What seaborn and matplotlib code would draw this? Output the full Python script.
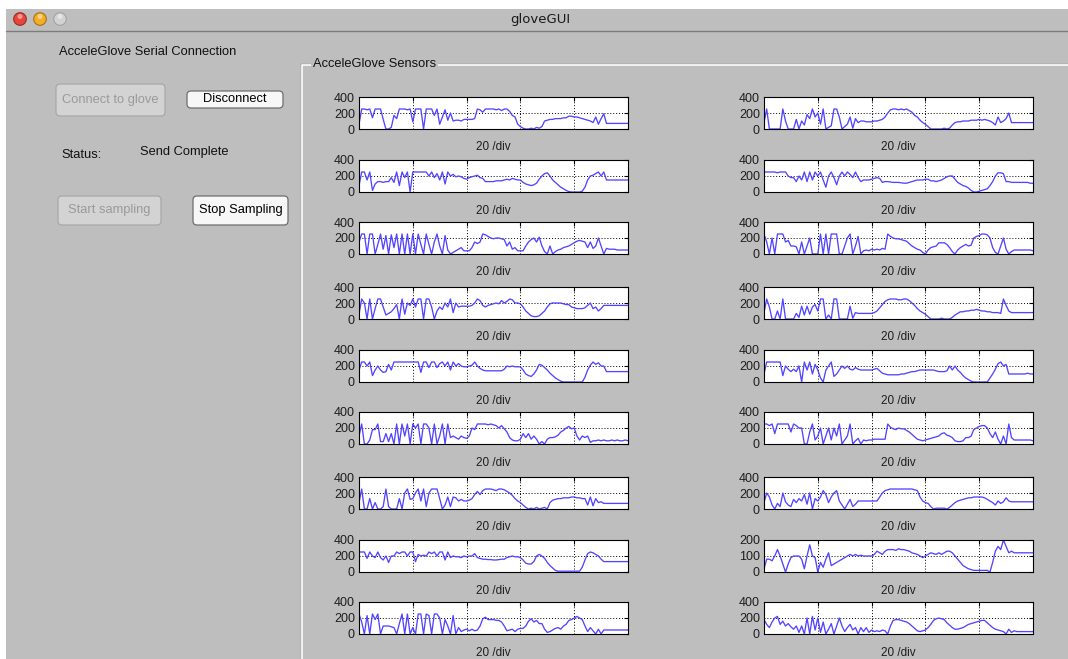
import numpy as np
import matplotlib.pyplot as plt
import seaborn as sns
from matplotlib.patches import Rectangle, FancyBboxPatch, Circle

# sensor traces (one value per x step, x = 0..100)
left_1 = [60, 250, 250, 240, 250, 140, 250, 250, 250, 120, 0, 0, 20, 170, 130, 250, 250, 250, 240, 250,
          90, 250, 250, 250, 0, 250, 250, 250, 170, 250, 60, 150, 240, 110, 200, 100, 110, 110, 100, 120,
          120, 120, 120, 130, 250, 240, 210, 250, 250, 250, 250, 240, 250, 230, 250, 250, 220, 170, 150, 60,
          30, 10, 0, 0, 10, 0, 20, 10, 30, 100, 110, 120, 120, 130, 130, 130, 140, 140, 160, 160,
          150, 150, 140, 130, 120, 110, 100, 80, 150, 60, 130, 190, 70, 70, 70, 70, 70, 70, 70, 70, 70]
left_2 = [80, 250, 250, 150, 250, 20, 100, 130, 130, 120, 130, 130, 180, 120, 250, 80, 250, 180, 250, 0,
          250, 250, 250, 250, 250, 250, 200, 250, 180, 230, 150, 250, 100, 250, 200, 220, 190, 200, 190, 170,
          160, 180, 190, 200, 210, 180, 170, 130, 130, 130, 130, 140, 140, 140, 150, 160, 150, 170, 160, 150,
          150, 120, 100, 90, 80, 90, 110, 160, 200, 230, 240, 200, 150, 120, 90, 60, 40, 20, 5, 0,
          0, 0, 0, 10, 60, 150, 200, 210, 230, 250, 200, 250, 150, 150, 150, 150, 150, 150, 150, 150, 150]
left_3 = [150, 250, 250, 0, 250, 250, 0, 120, 250, 60, 230, 0, 240, 80, 250, 0, 250, 0, 250, 0,
          250, 0, 250, 120, 0, 250, 120, 0, 150, 250, 100, 0, 230, 50, 0, 20, 40, 60, 80, 40,
          40, 40, 80, 150, 130, 150, 250, 240, 220, 200, 190, 200, 200, 190, 180, 100, 150, 60, 80, 40,
          40, 40, 100, 150, 180, 200, 150, 210, 100, 30, 0, 100, 0, 30, 50, 60, 80, 90, 100, 120,
          140, 160, 170, 160, 150, 80, 150, 70, 100, 200, 100, 0, 70, 60, 60, 60, 50, 50, 50, 50, 50]
left_4 = [60, 250, 200, 0, 250, 0, 130, 250, 250, 150, 50, 70, 90, 130, 180, 0, 250, 60, 200, 170,
          250, 150, 250, 250, 0, 250, 250, 150, 0, 100, 150, 120, 200, 150, 250, 80, 200, 150, 160, 160,
          160, 160, 170, 200, 250, 230, 170, 150, 170, 180, 190, 200, 190, 230, 200, 220, 250, 240, 200, 200,
          190, 150, 100, 70, 40, 30, 30, 40, 70, 100, 150, 190, 200, 200, 200, 200, 190, 180, 180, 150,
          140, 130, 130, 130, 140, 170, 200, 130, 150, 100, 130, 170, 170, 170, 170, 170, 170, 170, 170, 170, 170]
left_5 = [150, 250, 250, 200, 250, 80, 150, 200, 150, 120, 130, 220, 150, 250, 250, 250, 250, 250, 250, 250,
          250, 250, 250, 120, 250, 250, 180, 250, 250, 180, 230, 250, 200, 250, 150, 250, 200, 230, 200, 190,
          190, 200, 210, 250, 200, 170, 150, 140, 140, 140, 140, 140, 140, 140, 160, 200, 190, 200, 190, 190,
          190, 150, 100, 80, 70, 100, 150, 220, 210, 180, 150, 110, 80, 50, 30, 10, 0, 0, 0, 0,
          0, 0, 0, 0, 60, 150, 210, 250, 220, 240, 200, 200, 130, 130, 130, 130, 130, 130, 130, 130, 130]
left_6 = [100, 250, 0, 0, 50, 180, 180, 250, 30, 30, 130, 30, 130, 0, 250, 0, 250, 100, 250, 0,
          250, 200, 250, 0, 250, 250, 200, 0, 250, 0, 100, 250, 0, 250, 80, 100, 80, 60, 100, 80,
          70, 100, 200, 180, 250, 250, 250, 250, 240, 250, 240, 230, 200, 230, 190, 150, 80, 50, 40, 40,
          60, 130, 80, 130, 60, 100, 60, 0, 30, 0, 60, 80, 80, 90, 110, 150, 170, 200, 220, 190,
          200, 100, 50, 100, 80, 100, 20, 40, 40, 50, 40, 50, 40, 40, 50, 40, 50, 40, 40, 50, 40]
left_7 = [80, 250, 0, 0, 130, 0, 80, 0, 0, 30, 250, 30, 0, 0, 0, 130, 0, 200, 250, 120,
          130, 200, 250, 100, 250, 30, 200, 250, 250, 250, 130, 0, 50, 150, 30, 150, 140, 100, 120, 100,
          100, 110, 130, 180, 220, 180, 230, 250, 250, 250, 240, 230, 250, 250, 240, 220, 200, 170, 130, 100,
          80, 50, 20, 0, 10, 0, 20, 0, 10, 20, 0, 80, 110, 120, 130, 130, 140, 140, 140, 150,
          150, 140, 140, 130, 130, 50, 150, 40, 130, 80, 90, 70, 70, 70, 70, 70, 70, 70, 70, 70, 70]
left_8 = [250, 250, 250, 170, 250, 200, 180, 250, 180, 150, 200, 120, 200, 200, 250, 230, 250, 250, 200, 250,
          250, 130, 220, 200, 210, 200, 250, 230, 250, 200, 250, 250, 150, 250, 180, 200, 190, 190, 180, 200,
          190, 200, 200, 230, 180, 170, 160, 160, 155, 155, 150, 150, 155, 160, 160, 180, 190, 200, 190, 190,
          180, 150, 110, 100, 100, 130, 200, 220, 200, 170, 120, 80, 50, 20, 10, 10, 10, 10, 10, 10,
          10, 10, 10, 60, 150, 230, 250, 240, 220, 200, 160, 130, 130, 130, 130, 130, 130, 130, 130, 130, 130]
left_9 = [250, 150, 0, 230, 0, 250, 180, 250, 0, 100, 100, 100, 90, 80, 0, 130, 250, 0, 250, 0,
          80, 0, 250, 250, 0, 250, 230, 0, 250, 250, 200, 0, 180, 100, 0, 230, 0, 80, 30, 50,
          60, 40, 60, 40, 50, 100, 190, 210, 180, 180, 180, 170, 170, 150, 100, 40, 50, 60, 30, 60,
          70, 70, 100, 160, 190, 150, 170, 130, 130, 60, 20, 30, 50, 70, 80, 60, 100, 120, 170, 180,
          200, 220, 200, 180, 100, 30, 80, 40, 0, 60, 0, 50, 50, 50, 50, 50, 50, 50, 50, 50, 50]

right_1 = [80, 250, 0, 0, 0, 0, 0, 250, 100, 0, 0, 0, 120, 0, 100, 50, 180, 130, 250, 150,
           200, 60, 250, 0, 20, 40, 250, 250, 150, 0, 30, 60, 150, 10, 130, 80, 100, 100, 90, 90,
           90, 100, 100, 110, 120, 150, 200, 240, 250, 250, 240, 250, 240, 250, 230, 210, 170, 150, 110, 80,
           60, 30, 0, 0, 0, 0, 0, 10, 0, 10, 50, 80, 90, 90, 100, 100, 100, 110, 110, 110,
           120, 110, 120, 110, 100, 80, 50, 150, 80, 100, 130, 200, 80, 80, 80, 80, 80, 80, 80, 80, 80]
right_2 = [250, 250, 250, 250, 250, 240, 250, 250, 250, 200, 180, 180, 130, 200, 150, 250, 130, 250, 150, 250,
           200, 250, 150, 60, 200, 250, 180, 90, 200, 250, 200, 250, 220, 180, 250, 180, 130, 150, 150, 150,
           160, 170, 180, 170, 120, 130, 130, 125, 120, 120, 120, 115, 110, 110, 120, 130, 140, 150, 150, 150,
           160, 160, 140, 140, 130, 140, 150, 170, 190, 200, 200, 160, 120, 100, 80, 70, 50, 20, 0, 0,
           10, 20, 30, 40, 80, 130, 200, 240, 240, 230, 130, 130, 120, 120, 120, 120, 120, 120, 120, 110, 110]
right_3 = [250, 150, 0, 200, 0, 250, 250, 250, 150, 170, 100, 100, 90, 0, 150, 0, 100, 200, 0, 0,
           0, 250, 0, 250, 0, 250, 250, 250, 0, 0, 100, 200, 250, 0, 100, 220, 0, 40, 50, 40,
           60, 50, 60, 50, 70, 60, 250, 220, 200, 190, 190, 180, 170, 160, 130, 100, 80, 60, 50, 20,
           0, 50, 80, 90, 100, 140, 140, 140, 120, 80, 30, 0, 50, 80, 100, 120, 100, 110, 200, 220,
           230, 250, 250, 240, 200, 80, 20, 0, 100, 200, 60, 0, 30, 50, 50, 50, 50, 50, 50, 50, 40]
right_4 = [80, 250, 150, 0, 0, 100, 0, 250, 0, 0, 0, 0, 70, 20, 160, 50, 160, 60, 150, 180,
           100, 250, 250, 0, 50, 0, 250, 250, 0, 0, 0, 0, 160, 10, 80, 70, 70, 70, 70, 70,
           70, 80, 100, 140, 180, 220, 240, 250, 250, 250, 240, 240, 250, 250, 230, 200, 170, 130, 100, 80,
           60, 30, 0, 0, 0, 0, 10, 0, 0, 0, 20, 50, 70, 90, 90, 100, 100, 110, 110, 120,
           110, 100, 100, 90, 90, 80, 80, 80, 70, 250, 170, 100, 80, 80, 80, 80, 80, 80, 80, 80, 80]
right_5 = [100, 250, 250, 250, 250, 250, 250, 80, 200, 160, 130, 160, 130, 200, 0, 250, 150, 250, 100, 220,
           150, 50, 0, 150, 200, 250, 70, 100, 150, 200, 170, 200, 160, 150, 180, 160, 150, 150, 150, 150,
           150, 160, 170, 140, 110, 100, 90, 90, 90, 90, 90, 100, 100, 110, 120, 130, 130, 140, 150, 150,
           150, 150, 150, 150, 140, 130, 130, 130, 140, 200, 150, 200, 150, 120, 80, 50, 30, 10, 0, 0,
           0, 0, 0, 0, 50, 100, 160, 230, 250, 200, 220, 100, 100, 100, 100, 100, 100, 100, 110, 100, 100]
right_6 = [250, 250, 230, 250, 130, 250, 250, 250, 250, 250, 150, 250, 230, 200, 200, 0, 0, 150, 250, 50,
           100, 200, 0, 100, 200, 50, 200, 100, 250, 0, 50, 100, 250, 0, 40, 70, 0, 50, 40, 50,
           50, 60, 60, 60, 60, 60, 250, 210, 190, 180, 200, 190, 190, 170, 150, 120, 90, 60, 50, 40,
           50, 60, 70, 80, 90, 100, 130, 140, 110, 100, 80, 40, 30, 30, 40, 80, 80, 100, 180, 200,
           220, 230, 230, 200, 130, 80, 150, 60, 0, 100, 0, 250, 80, 50, 50, 50, 50, 50, 50, 50, 40]
right_7 = [80, 200, 150, 50, 0, 70, 30, 200, 90, 50, 30, 120, 80, 130, 100, 180, 60, 200, 0, 130,
           100, 150, 230, 180, 80, 150, 200, 230, 100, 50, 0, 60, 120, 30, 60, 100, 100, 100, 100, 100,
           100, 100, 100, 150, 200, 230, 240, 250, 250, 250, 250, 250, 250, 250, 250, 250, 240, 230, 150, 100,
           80, 70, 30, 0, 10, 10, 10, 10, 0, 20, 50, 80, 100, 110, 120, 130, 140, 140, 150, 150,
           150, 150, 140, 120, 100, 80, 50, 100, 70, 90, 140, 100, 90, 90, 90, 90, 90, 90, 90, 90, 90]
right_8 = [20, 80, 80, 70, 100, 140, 100, 50, 0, 50, 90, 100, 100, 100, 80, 20, 100, 170, 100, 90,
           0, 60, 30, 80, 120, 40, 50, 60, 70, 80, 90, 100, 110, 100, 110, 100, 105, 100, 100, 100,
           100, 110, 130, 120, 110, 130, 140, 140, 140, 135, 145, 140, 140, 135, 130, 120, 115, 110, 100, 90,
           100, 110, 120, 115, 110, 120, 110, 120, 130, 130, 120, 100, 80, 60, 40, 30, 20, 15, 10, 10,
           10, 10, 10, 10, 0, 60, 130, 160, 140, 200, 160, 120, 130, 120, 120, 120, 120, 120, 120, 120, 120]
right_9 = [180, 120, 80, 150, 200, 220, 120, 160, 100, 130, 90, 60, 100, 20, 100, 0, 200, 0, 220, 50,
           200, 20, 150, 0, 60, 130, 0, 100, 200, 100, 30, 80, 120, 50, 80, 0, 80, 30, 80, 20,
           50, 30, 40, 30, 50, 40, 0, 100, 170, 180, 180, 170, 160, 150, 130, 100, 70, 40, 30, 40,
           50, 80, 120, 170, 190, 200, 190, 180, 140, 110, 80, 60, 60, 70, 80, 100, 120, 130, 140, 150,
           160, 170, 170, 140, 110, 80, 60, 50, 40, 30, 0, 60, 20, 40, 30, 30, 30, 30, 30, 30, 30]

left_series = [left_1, left_2, left_3, left_4, left_5, left_6, left_7, left_8, left_9]
right_series = [right_1, right_2, right_3, right_4, right_5, right_6, right_7, right_8, right_9]
left_ymax = [400] * 9
right_ymax = [400, 400, 400, 400, 400, 400, 400, 200, 400]

W, H = 1068, 659
bg = '#bebebe'
line_color = '#5244ff'

sns.set_theme(style='white')
plt.rcParams['font.family'] = ['Liberation Sans', 'DejaVu Sans']

fig = plt.figure(figsize=(W / 100, H / 100), dpi=100, facecolor='white')

# window chrome, drawn in pixel coordinates underneath the plots
ui = fig.add_axes([0, 0, 1, 1], zorder=-1)
ui.axis('off')
ui.add_patch(Rectangle((6, 9), W - 6, H - 9, facecolor=bg, edgecolor='none'))
grad = np.linspace(0.93, 0.75, 40)[:, None]
ui.imshow(grad, cmap='gray', vmin=0, vmax=1, aspect='auto', extent=(6, W, 30, 9))
ui.plot([6, W], [30.5, 30.5], color='#7c7c7c', lw=1)
for cx, fc, ec in [(20, '#e5473d', '#9c2a22'), (40, '#f2ad2a', '#a8740f'), (60, '#d2d2d2', '#a3a3a3')]:
    ui.add_patch(Circle((cx, 19), 6.3, facecolor=fc, edgecolor=ec, lw=0.8))
    ui.add_patch(Circle((cx, 16.5), 2.5, facecolor='white', edgecolor='none', alpha=0.45))
ui.text(540, 19.5, 'gloveGUI', ha='center', va='center', fontsize=9.5, color='#1a1a1a',
        family=['DejaVu Sans'])
ui.set_xlim(0, W)
ui.set_ylim(H, 0)

# left control panel
ui.text(59, 52, 'AcceleGlove Serial Connection', ha='left', va='center', fontsize=9.3, color='#111111')
ui.text(61, 155, 'Status:', ha='left', va='center', fontsize=9.3, color='#111111')
ui.text(140, 152, 'Send Complete', ha='left', va='center', fontsize=9.3, color='#111111')


def button(x, y, w, h, label, enabled):
    fc = '#f7f7f7' if enabled else '#d3d3d3'
    ec = '#6e6e6e' if enabled else '#a8a8a8'
    tc = '#000000' if enabled else '#9a9a9a'
    ui.add_patch(FancyBboxPatch((x, y), w, h, boxstyle='round,pad=0,rounding_size=4',
                                facecolor=fc, edgecolor=ec, lw=0.9))
    ui.text(x + w / 2, y + h / 2, label, ha='center', va='center', fontsize=9.3, color=tc)


button(56, 84, 109, 32, 'Connect to glove', False)
button(187, 91, 96, 17, 'Disconnect', True)
button(58, 196, 103, 29, 'Start sampling', False)
button(193, 196, 95, 29, 'Stop Sampling', True)

# etched panel frame
ui.plot([300.5, W], [63.5, 63.5], color='#8e8e8e', lw=1)
ui.plot([301.5, W], [65, 65], color='white', lw=1.2)
ui.plot([300.5, 300.5], [63.5, H], color='#8e8e8e', lw=1)
ui.plot([302, 302], [65, H], color='white', lw=1.2)
ui.text(313, 64, 'AcceleGlove Sensors', ha='left', va='center', fontsize=9.3, color='#111111',
        bbox=dict(facecolor=bg, edgecolor='none', pad=1.5))

# sensor plots
row_tops = [97, 160, 222, 287, 350, 412, 477, 540, 602]
ax_h = 32
ax_w = 269
columns = [(359, left_series, left_ymax), (764, right_series, right_ymax)]

for x0, series, ymaxes in columns:
    for top, vals, ymax in zip(row_tops, series, ymaxes):
        ax = fig.add_axes([x0 / W, 1 - (top + ax_h) / H, ax_w / W, ax_h / H])
        xs = np.linspace(0, 100, len(vals))
        sns.lineplot(x=xs, y=vals, ax=ax, color=line_color, linewidth=0.95)
        ax.set_facecolor('white')
        ax.set_xlim(0, 100)
        ax.set_ylim(0, ymax)
        ax.set_xticks([20, 40, 60, 80])
        ax.set_xticklabels([])
        ax.set_yticks([0, ymax // 2, ymax])
        ax.set_yticklabels([str(v) for v in [0, ymax // 2, ymax]])
        ax.grid(True, color='black', linestyle=(0, (1, 2)), linewidth=0.7)
        ax.tick_params(direction='in', length=3, width=0.8, top=True, right=True,
                       labelsize=9, pad=3, colors='black', labelcolor='#1e1e1e')
        for sp in ax.spines.values():
            sp.set_color('black')
            sp.set_linewidth(0.8)
        ax.set_xlabel('')
        ax.set_ylabel('')
        ax.text(0.5, -18.5 / ax_h, '20 /div', transform=ax.transAxes, ha='center', va='center',
                fontsize=8.5, color='#1e1e1e')

fig.savefig('out.png', dpi=100, facecolor='white')
